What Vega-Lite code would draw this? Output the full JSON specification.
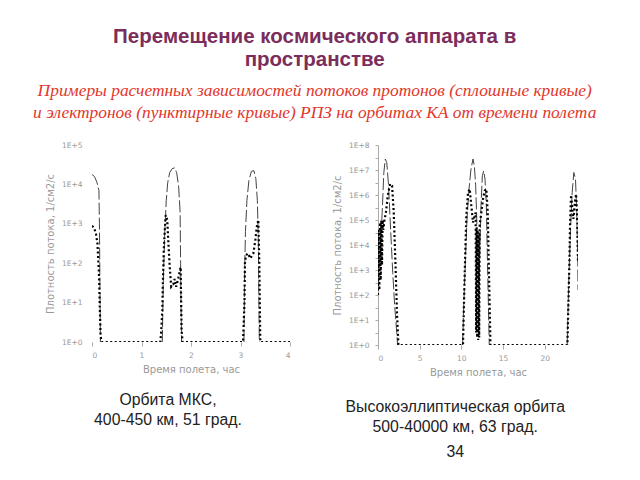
{
  "$schema": "https://vega.github.io/schema/vega-lite/v6.json",
  "background": "white",
  "padding": {"left": 28, "top": 27, "right": 0, "bottom": 0},
  "title": {
    "text": ["Перемещение космического аппарата в", "пространстве"],
    "subtitle": ["Примеры расчетных зависимостей потоков протонов (сплошные кривые)", "и электронов (пунктирные кривые) РПЗ на орбитах КА  от  времени полета"],
    "anchor": "middle",
    "frame": "bounds",
    "dx": 3,
    "font": "Liberation Sans",
    "fontSize": 20.5,
    "fontWeight": "bold",
    "color": "#7B2D5B",
    "lineHeight": 23,
    "subtitleFont": "Liberation Serif",
    "subtitleFontStyle": "italic",
    "subtitleFontSize": 17.4,
    "subtitleColor": "#E2362B",
    "subtitleLineHeight": 22,
    "subtitlePadding": 11,
    "offset": 20
  },
  "datasets": {
    "left": [
      {"s": "P", "g": "L1", "t": 0, "lg": 4.25},
      {"s": "P", "g": "L1", "t": 0.05, "lg": 4.2},
      {"s": "P", "g": "L1", "t": 0.1, "lg": 4.05},
      {"s": "P", "g": "L1", "t": 0.14, "lg": 3.85},
      {"s": "P", "g": "L1", "t": 0.15, "lg": 3.0},
      {"s": "P", "g": "L1", "t": 0.16, "lg": 1.5},
      {"s": "P", "g": "L1", "t": 0.17, "lg": 0},
      {"s": "P", "g": "L2", "t": 1.42, "lg": 0},
      {"s": "P", "g": "L2", "t": 1.44, "lg": 1.5},
      {"s": "P", "g": "L2", "t": 1.47, "lg": 2.8},
      {"s": "P", "g": "L2", "t": 1.5, "lg": 3.6},
      {"s": "P", "g": "L2", "t": 1.53, "lg": 4.05},
      {"s": "P", "g": "L2", "t": 1.57, "lg": 4.3},
      {"s": "P", "g": "L2", "t": 1.62, "lg": 4.4},
      {"s": "P", "g": "L2", "t": 1.67, "lg": 4.42},
      {"s": "P", "g": "L2", "t": 1.71, "lg": 4.3},
      {"s": "P", "g": "L2", "t": 1.75, "lg": 3.95},
      {"s": "P", "g": "L2", "t": 1.78, "lg": 3.3},
      {"s": "P", "g": "L2", "t": 1.79, "lg": 2.0},
      {"s": "P", "g": "L2", "t": 1.8, "lg": 0.8},
      {"s": "P", "g": "L2", "t": 1.81, "lg": 0},
      {"s": "P", "g": "L3", "t": 3.07, "lg": 0},
      {"s": "P", "g": "L3", "t": 3.08, "lg": 1.5},
      {"s": "P", "g": "L3", "t": 3.1, "lg": 2.8},
      {"s": "P", "g": "L3", "t": 3.13, "lg": 3.6},
      {"s": "P", "g": "L3", "t": 3.17, "lg": 4.1},
      {"s": "P", "g": "L3", "t": 3.22, "lg": 4.33},
      {"s": "P", "g": "L3", "t": 3.27, "lg": 4.35},
      {"s": "P", "g": "L3", "t": 3.31, "lg": 4.15},
      {"s": "P", "g": "L3", "t": 3.34, "lg": 3.6},
      {"s": "P", "g": "L3", "t": 3.36, "lg": 2.6},
      {"s": "P", "g": "L3", "t": 3.37, "lg": 1.2},
      {"s": "P", "g": "L3", "t": 3.38, "lg": 0},
      {"s": "E", "g": "L4", "t": 0, "lg": 2.95},
      {"s": "E", "g": "L4", "t": 0.04, "lg": 2.9},
      {"s": "E", "g": "L4", "t": 0.08, "lg": 2.75},
      {"s": "E", "g": "L4", "t": 0.11, "lg": 2.5},
      {"s": "E", "g": "L4", "t": 0.14, "lg": 1.75},
      {"s": "E", "g": "L4", "t": 0.155, "lg": 1.0},
      {"s": "E", "g": "L4", "t": 0.175, "lg": 0.13},
      {"s": "E", "g": "L4", "t": 0.2, "lg": 0},
      {"s": "E", "g": "L4", "t": 1.38, "lg": 0},
      {"s": "E", "g": "L4", "t": 1.4, "lg": 0.3},
      {"s": "E", "g": "L4", "t": 1.42, "lg": 0.8},
      {"s": "E", "g": "L4", "t": 1.43, "lg": 1.4},
      {"s": "E", "g": "L4", "t": 1.45, "lg": 2.33},
      {"s": "E", "g": "L4", "t": 1.47, "lg": 2.84},
      {"s": "E", "g": "L4", "t": 1.49, "lg": 3.22},
      {"s": "E", "g": "L4", "t": 1.52, "lg": 3.1},
      {"s": "E", "g": "L4", "t": 1.54, "lg": 2.59},
      {"s": "E", "g": "L4", "t": 1.57, "lg": 1.91},
      {"s": "E", "g": "L4", "t": 1.6, "lg": 1.4},
      {"s": "E", "g": "L4", "t": 1.64, "lg": 1.46},
      {"s": "E", "g": "L4", "t": 1.67, "lg": 1.6},
      {"s": "E", "g": "L4", "t": 1.7, "lg": 1.4},
      {"s": "E", "g": "L4", "t": 1.74, "lg": 1.6},
      {"s": "E", "g": "L4", "t": 1.77, "lg": 1.78},
      {"s": "E", "g": "L4", "t": 1.79, "lg": 1.9},
      {"s": "E", "g": "L4", "t": 1.81, "lg": 0.3},
      {"s": "E", "g": "L4", "t": 1.83, "lg": 0},
      {"s": "E", "g": "L4", "t": 3.05, "lg": 0},
      {"s": "E", "g": "L4", "t": 3.08, "lg": 0.98},
      {"s": "E", "g": "L4", "t": 3.09, "lg": 2.0},
      {"s": "E", "g": "L4", "t": 3.11, "lg": 2.2},
      {"s": "E", "g": "L4", "t": 3.15, "lg": 2.25},
      {"s": "E", "g": "L4", "t": 3.2, "lg": 2.12},
      {"s": "E", "g": "L4", "t": 3.26, "lg": 2.25},
      {"s": "E", "g": "L4", "t": 3.3, "lg": 2.59},
      {"s": "E", "g": "L4", "t": 3.33, "lg": 2.93},
      {"s": "E", "g": "L4", "t": 3.36, "lg": 3.1},
      {"s": "E", "g": "L4", "t": 3.38, "lg": 2.0},
      {"s": "E", "g": "L4", "t": 3.4, "lg": 0},
      {"s": "E", "g": "L4", "t": 4.0, "lg": 0}
    ],
    "right": [
      {"s": "P", "g": "R1", "t": 0.2, "lg": 3.2},
      {"s": "P", "g": "R1", "t": 0.35, "lg": 4.3},
      {"s": "P", "g": "R1", "t": 0.5, "lg": 5.3},
      {"s": "P", "g": "R1", "t": 0.6, "lg": 6.1},
      {"s": "P", "g": "R1", "t": 0.7, "lg": 6.9},
      {"s": "P", "g": "R1", "t": 0.88, "lg": 7.44},
      {"s": "P", "g": "R1", "t": 1.05, "lg": 7.3},
      {"s": "P", "g": "R1", "t": 1.24, "lg": 6.5},
      {"s": "P", "g": "R1", "t": 1.36, "lg": 5.7},
      {"s": "P", "g": "R1", "t": 1.57, "lg": 4.24},
      {"s": "P", "g": "R1", "t": 1.77, "lg": 2.9},
      {"s": "P", "g": "R1", "t": 2.0, "lg": 1.57},
      {"s": "P", "g": "R1", "t": 2.25, "lg": 0.5},
      {"s": "P", "g": "R1", "t": 2.35, "lg": 0},
      {"s": "P", "g": "R2", "t": 10.15, "lg": 0},
      {"s": "P", "g": "R2", "t": 10.3, "lg": 1.7},
      {"s": "P", "g": "R2", "t": 10.48, "lg": 3.3},
      {"s": "P", "g": "R2", "t": 10.68, "lg": 5.04},
      {"s": "P", "g": "R2", "t": 10.92, "lg": 6.24},
      {"s": "P", "g": "R2", "t": 11.16, "lg": 7.04},
      {"s": "P", "g": "R2", "t": 11.4, "lg": 7.44},
      {"s": "P", "g": "R2", "t": 11.56, "lg": 7.17},
      {"s": "P", "g": "R2", "t": 11.72, "lg": 6.37},
      {"s": "P", "g": "R2", "t": 11.84, "lg": 5.17},
      {"s": "P", "g": "R2", "t": 11.96, "lg": 3.6},
      {"s": "P", "g": "R2", "t": 12.08, "lg": 2.6},
      {"s": "P", "g": "R2", "t": 12.2, "lg": 3.4},
      {"s": "P", "g": "R2", "t": 12.36, "lg": 5.57},
      {"s": "P", "g": "R2", "t": 12.52, "lg": 6.77},
      {"s": "P", "g": "R2", "t": 12.68, "lg": 6.97},
      {"s": "P", "g": "R2", "t": 12.84, "lg": 6.64},
      {"s": "P", "g": "R2", "t": 13.0, "lg": 5.57},
      {"s": "P", "g": "R2", "t": 13.12, "lg": 3.57},
      {"s": "P", "g": "R2", "t": 13.25, "lg": 1.57},
      {"s": "P", "g": "R2", "t": 13.35, "lg": 0},
      {"s": "P", "g": "R3", "t": 22.7, "lg": 0},
      {"s": "P", "g": "R3", "t": 22.9, "lg": 2.64},
      {"s": "P", "g": "R3", "t": 23.1, "lg": 4.64},
      {"s": "P", "g": "R3", "t": 23.3, "lg": 6.1},
      {"s": "P", "g": "R3", "t": 23.5, "lg": 6.9},
      {"s": "P", "g": "R3", "t": 23.7, "lg": 6.64},
      {"s": "P", "g": "R3", "t": 23.85, "lg": 5.3},
      {"s": "P", "g": "R3", "t": 23.97, "lg": 3.3},
      {"s": "P", "g": "R3", "t": 24.0, "lg": 2.2},
      {"s": "E", "g": "R4", "t": 0, "lg": 2.0},
      {"s": "E", "g": "R4", "t": 0.08, "lg": 4.6},
      {"s": "E", "g": "R4", "t": 0.16, "lg": 2.2},
      {"s": "E", "g": "R4", "t": 0.24, "lg": 4.9},
      {"s": "E", "g": "R4", "t": 0.32, "lg": 2.6},
      {"s": "E", "g": "R4", "t": 0.4, "lg": 5.0},
      {"s": "E", "g": "R4", "t": 0.48, "lg": 3.2},
      {"s": "E", "g": "R4", "t": 0.56, "lg": 5.0},
      {"s": "E", "g": "R4", "t": 0.64, "lg": 4.6},
      {"s": "E", "g": "R4", "t": 0.76, "lg": 4.96},
      {"s": "E", "g": "R4", "t": 0.95, "lg": 5.3},
      {"s": "E", "g": "R4", "t": 1.17, "lg": 5.97},
      {"s": "E", "g": "R4", "t": 1.45, "lg": 6.44},
      {"s": "E", "g": "R4", "t": 1.69, "lg": 6.37},
      {"s": "E", "g": "R4", "t": 1.89, "lg": 5.3},
      {"s": "E", "g": "R4", "t": 2.09, "lg": 3.3},
      {"s": "E", "g": "R4", "t": 2.29, "lg": 1.17},
      {"s": "E", "g": "R4", "t": 2.45, "lg": 0},
      {"s": "E", "g": "R4", "t": 10.2, "lg": 0},
      {"s": "E", "g": "R4", "t": 10.32, "lg": 1.7},
      {"s": "E", "g": "R4", "t": 10.44, "lg": 3.3},
      {"s": "E", "g": "R4", "t": 10.6, "lg": 5.17},
      {"s": "E", "g": "R4", "t": 10.8, "lg": 6.1},
      {"s": "E", "g": "R4", "t": 11.0, "lg": 6.24},
      {"s": "E", "g": "R4", "t": 11.2, "lg": 5.57},
      {"s": "E", "g": "R4", "t": 11.4, "lg": 4.9},
      {"s": "E", "g": "R4", "t": 11.6, "lg": 5.17},
      {"s": "E", "g": "R4", "t": 11.72, "lg": 5.3},
      {"s": "E", "g": "R4", "t": 11.78, "lg": 0.5},
      {"s": "E", "g": "R4", "t": 11.84, "lg": 4.7},
      {"s": "E", "g": "R4", "t": 11.9, "lg": 0.3},
      {"s": "E", "g": "R4", "t": 11.96, "lg": 4.6},
      {"s": "E", "g": "R4", "t": 12.02, "lg": 0.2},
      {"s": "E", "g": "R4", "t": 12.08, "lg": 4.5},
      {"s": "E", "g": "R4", "t": 12.14, "lg": 0.3},
      {"s": "E", "g": "R4", "t": 12.2, "lg": 4.8},
      {"s": "E", "g": "R4", "t": 12.4, "lg": 5.3},
      {"s": "E", "g": "R4", "t": 12.6, "lg": 5.84},
      {"s": "E", "g": "R4", "t": 12.8, "lg": 6.17},
      {"s": "E", "g": "R4", "t": 13.0, "lg": 6.24},
      {"s": "E", "g": "R4", "t": 13.17, "lg": 5.3},
      {"s": "E", "g": "R4", "t": 13.33, "lg": 2.64},
      {"s": "E", "g": "R4", "t": 13.5, "lg": 0},
      {"s": "E", "g": "R4", "t": 22.73, "lg": 0},
      {"s": "E", "g": "R4", "t": 22.85, "lg": 1.7},
      {"s": "E", "g": "R4", "t": 22.97, "lg": 3.3},
      {"s": "E", "g": "R4", "t": 23.05, "lg": 4.9},
      {"s": "E", "g": "R4", "t": 23.17, "lg": 6.0},
      {"s": "E", "g": "R4", "t": 23.33, "lg": 5.44},
      {"s": "E", "g": "R4", "t": 23.45, "lg": 5.04},
      {"s": "E", "g": "R4", "t": 23.65, "lg": 5.77},
      {"s": "E", "g": "R4", "t": 23.77, "lg": 6.04},
      {"s": "E", "g": "R4", "t": 23.9, "lg": 5.17},
      {"s": "E", "g": "R4", "t": 24.0, "lg": 3.3}
    ]
  },
  "spacing": 41,
  "hconcat": [
    {
      "width": 198,
      "height": 197,
      "title": {
        "text": ["Орбита МКС,", "400-450 км, 51 град."],
        "orient": "bottom",
        "anchor": "middle",
        "frame": "bounds",
        "font": "Liberation Sans",
        "fontSize": 15.8,
        "fontWeight": "normal",
        "color": "#222222",
        "lineHeight": 20,
        "offset": 18
      },
      "data": {"name": "left"},
      "encoding": {
        "x": {
          "field": "t", "type": "quantitative",
          "scale": {"domain": [0, 4], "nice": false, "zero": false},
          "axis": {"values": [0, 1, 2, 3, 4], "title": "Время полета, час", "domain": false, "labelPadding": 5}
        },
        "y": {
          "field": "lg", "type": "quantitative",
          "scale": {"domain": [0, 5], "nice": false},
          "axis": {"values": [0, 1, 2, 3, 4, 5], "labelExpr": "'1E+' + datum.value", "title": "Плотность потока, 1/см2/с", "domain": false, "ticks": false, "labelPadding": 10}
        },
        "detail": {"field": "g"}
      },
      "layer": [
        {"transform": [{"filter": "datum.s == 'P'"}], "mark": {"type": "line", "color": "#444444", "strokeWidth": 1, "strokeDash": [12, 3], "clip": true}},
        {"transform": [{"filter": "datum.s == 'E'"}], "mark": {"type": "line", "color": "#000000", "strokeWidth": 2.2, "strokeDash": [2, 2.5], "clip": true}}
      ]
    },
    {
      "width": 200,
      "height": 200,
      "title": {
        "text": ["Высокоэллиптическая орбита", "500-40000 км, 63 град."],
        "subtitle": "34",
        "orient": "bottom",
        "anchor": "middle",
        "frame": "bounds",
        "font": "Liberation Sans",
        "fontSize": 15.8,
        "fontWeight": "normal",
        "color": "#222222",
        "lineHeight": 20,
        "subtitleFont": "Liberation Sans",
        "subtitleFontSize": 15.8,
        "subtitleColor": "#222222",
        "subtitlePadding": 10,
        "offset": 22
      },
      "data": {"name": "right"},
      "encoding": {
        "x": {
          "field": "t", "type": "quantitative",
          "scale": {"domain": [0, 24], "nice": false, "zero": false},
          "axis": {"values": [0, 5, 10, 15, 20], "title": "Время полета, час", "domain": false, "labelPadding": 5}
        },
        "y": {
          "field": "lg", "type": "quantitative",
          "scale": {"domain": [0, 8], "nice": false},
          "axis": {"values": [0, 0.5, 1, 1.5, 2, 2.5, 3, 3.5, 4, 4.5, 5, 5.5, 6, 6.5, 7, 7.5, 8], "labelExpr": "datum.value % 1 == 0 ? '1E+' + datum.value : ''", "title": "Плотность потока, 1/см2/с", "domain": true, "ticks": true, "tickSize": 3, "labelPadding": 6}
        },
        "detail": {"field": "g"}
      },
      "layer": [
        {"transform": [{"filter": "datum.s == 'P'"}], "mark": {"type": "line", "color": "#444444", "strokeWidth": 1, "strokeDash": [12, 3], "clip": true}},
        {"transform": [{"filter": "datum.s == 'E'"}], "mark": {"type": "line", "color": "#000000", "strokeWidth": 2.2, "strokeDash": [2, 2.5], "clip": true}}
      ]
    }
  ],
  "config": {
    "view": {"stroke": null},
    "axis": {
      "grid": false,
      "labelFont": "DejaVu Sans",
      "labelFontSize": 7.5,
      "labelColor": "#999999",
      "titleFont": "DejaVu Sans",
      "titleFontSize": 10,
      "titleFontWeight": "normal",
      "titleColor": "#999999",
      "domainColor": "#aaaaaa",
      "tickColor": "#aaaaaa",
      "tickSize": 4,
      "titlePadding": 6
    }
  }
}
